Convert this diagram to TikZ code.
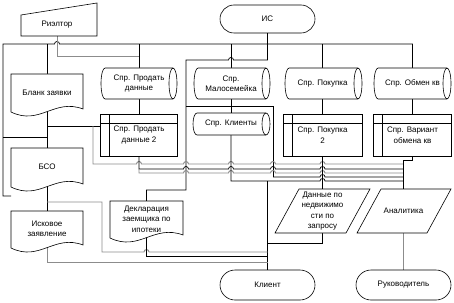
\documentclass[tikz,border=0pt]{standalone}
\usepackage{fontspec}
\setmainfont{Liberation Sans}
\pgfdeclarelayer{bg}
\pgfsetlayers{bg,main}
\newcommand\jh[2]{-- ({#1-2.5},#2) arc[start angle=180,end angle=360,radius=2.5]}
\newcommand\jhl[2]{-- ({#1+2.5},#2) arc[start angle=0,end angle=-180,radius=2.5]}
\newcommand\cylshape[4]{%
 \draw[shp,fill=white] ({#1+4},#2) -- ({#3-4},#2) arc[start angle=270,end angle=450,x radius=4,y radius={(#4-#2)/2}] -- ({#1+4},#4) arc[start angle=90,end angle=270,x radius=4,y radius={(#4-#2)/2}] -- cycle;
 \draw[shp] ({#3-4},#2) arc[start angle=270,end angle=90,x radius=4,y radius={(#4-#2)/2}];}
\newcommand\istore[4]{%
 \draw[shp,fill=white] (#1,#2) rectangle (#3,#4);
 \draw[shp] ({#1+9},#2) -- ({#1+9},#4);
 \draw[shp] (#1,{#2+9}) -- (#3,{#2+9});}
\newcommand\docshape[4]{%
 \draw[shp,fill=white] (#1,#4) -- (#1,#2) -- (#3,#2) -- (#3,{#4-3}) .. controls ({#1+0.6*(#3-#1)},{#4-14}) and ({#1+0.4*(#3-#1)},{#4+14}) .. (#1,#4) -- cycle;}
\begin{document}
\begin{tikzpicture}[x=1pt,y=-1pt,
  font=\fontsize{8}{10.5}\selectfont,
  shp/.style={draw=black,line width=0.6pt},
  ln/.style={draw=black,line width=0.7pt},
  gl/.style={draw=black!45,line width=0.9pt},
  lbl/.style={align=center,inner sep=0pt,outer sep=0pt},
  term/.style={draw=black,line width=0.6pt,fill=white,rounded corners=14pt,minimum width=95pt,minimum height=28pt,inner sep=0pt,outer sep=0pt}]
\useasboundingbox (0,0) rectangle (454,302);

% ---------- shapes ----------
\draw[shp,fill=white] (21,15) -- (97,3) -- (97,36) -- (21,36) -- cycle;
\cylshape{101}{68}{177}{99}
\cylshape{194}{68}{270}{99}
\cylshape{285}{68}{362}{99}
\cylshape{374}{68}{451}{99}
\cylshape{193}{113}{270}{135}
\istore{100}{114}{177}{156}
\istore{283}{114}{362}{156}
\istore{373}{114}{451}{156}
\docshape{11}{74}{83}{112}
\docshape{11}{148}{83}{187}
\docshape{11}{211}{83}{248}
\docshape{110}{201}{183}{238}
\draw[shp,fill=white] (299,189) -- (370,189) -- (346,233) -- (275,233) -- cycle;
\draw[shp,fill=white] (381,189) -- (451,189) -- (427,233) -- (357,233) -- cycle;

% ---------- nodes ----------
\node[lbl,minimum width=72pt,minimum height=22pt] (rieltor) at (57,25) {Риэлтор};
\node[term] (is) at (267.5,19) {ИС};
\node[term,minimum height=30pt,rounded corners=15pt] (klient) at (267.5,285) {Клиент};
\node[term,minimum height=30pt,rounded corners=15pt] (ruk) at (403.5,285) {Руководитель};
\node[lbl,minimum width=76pt,minimum height=31pt] (prodat) at (139,83.5) {Спр. Продать\\данные};
\node[lbl,minimum width=76pt,minimum height=31pt] (malo) at (231,83.5) {Спр.\\Малосемейка};
\node[lbl,minimum width=76pt,minimum height=31pt] (pokupka) at (322.5,83.5) {Спр. Покупка};
\node[lbl,minimum width=76pt,minimum height=31pt] (obmen) at (412.5,83.5) {Спр. Обмен кв};
\node[lbl,minimum width=76pt,minimum height=22pt] (klienty) at (231,124) {Спр. Клиенты};
\node[lbl,minimum width=76pt,minimum height=42pt] (prodat2) at (139,135) {Спр. Продать\\данные 2};
\node[lbl,minimum width=78pt,minimum height=42pt] (pokupka2) at (322.5,135) {Спр. Покупка\\2};
\node[lbl,minimum width=78pt,minimum height=42pt] (variant) at (412.5,135) {Спр. Вариант\\обмена кв};
\node[lbl,minimum width=72pt,minimum height=38pt] (blank) at (47,93) {Бланк заявки};
\node[lbl,minimum width=72pt,minimum height=38pt] (bso) at (47,167) {БСО};
\node[lbl,minimum width=72pt,minimum height=36pt] (iskovoe) at (47,229) {Исковое\\заявление};
\node[lbl,minimum width=72pt,minimum height=36pt] (dekl) at (146.5,219) {Декларация\\заемщика по\\ипотеки};
\node[lbl,minimum width=60pt,minimum height=44pt] (dannye) at (322.5,211) {Данные по\\недвижимо\\сти по\\запросу};
\node[lbl,minimum width=60pt,minimum height=44pt] (analit) at (403.5,211) {Аналитика};

% ---------- connectors ----------
\begin{pgfonlayer}{bg}
\fill[white] (0,0) rectangle (454,302);
\draw[ln] (11,196) -- (3,196) -- (3,44) \jh{57}{44} -- (412.5,44) -- (obmen.north);
\draw[ln] (47,44) -- (blank.north);
\draw[ln] (139,44) -- (prodat.north);
\draw[ln] (231,44) -- (malo.north);
\draw[ln] (322.5,44) -- (pokupka.north);
\draw[ln,line width=1.3pt] (is.south) -- (267.5,44);
\draw[ln] (267.5,44) -- (267.5,60) \jhl{231}{60} -- (186,60) -- (186,190) -- (146.5,190) -- (dekl.north);
\draw[gl] (rieltor.south) -- (57,56) -- (139,56);
\draw[ln] (186,106) -- (273,106) -- (273,177);
\draw[ln] (prodat.south) -- (prodat2.north);
\draw[ln] (malo.south) -- (klienty.north);
\draw[ln] (pokupka.south) -- (pokupka2.north);
\draw[ln] (obmen.south) -- (variant.north);
\draw[ln] (blank.south) -- (bso.north);
\draw[ln] (47,126) -- (100,126);
\draw[ln] (3,137) -- (47,137);
\draw[gl] (93,126) -- (93,164) \jh{139}{164} \jh{186}{164} \jh{231}{164} \jh{273}{164} \jh{322.5}{164} -- (403.5,164);
\draw[ln] (prodat2.south) -- (139,169) \jh{186}{169} \jh{231}{169} \jh{273}{169} \jh{322.5}{169} -- (403.5,169);
\draw[gl] (139,169) -- (139,173) \jh{186}{173} \jh{231}{173} \jh{273}{173} \jh{322.5}{173} -- (403.5,173);
\draw[ln] (273,177) \jh{322.5}{177} -- (403.5,177);
\draw[ln] (klienty.south) -- (231,181) \jh{322.5}{181} -- (403.5,181);
\draw[ln] (267.5,181) -- (klient.north);
\draw[ln] (variant.south) -- (412.5,160) -- (403.5,160) -- (analit.north);
\draw[ln] (pokupka2.south) -- (dannye.north);
\draw[ln] (dannye.south) -- (322.5,243) -- (267.5,243);
\draw[gl] (analit.south) -- (ruk.north);
\draw[ln] (bso.south) -- (iskovoe.north);
\draw[gl] (47,202) -- (102,202) -- (102,252) \jh{146.5}{252} -- (267.5,252);
\draw[ln] (dekl.south) -- (146.5,256) -- (267.5,256);
\draw[gl] (iskovoe.south) -- (47,262) -- (267.5,262);
\end{pgfonlayer}
\end{tikzpicture}
\end{document}
